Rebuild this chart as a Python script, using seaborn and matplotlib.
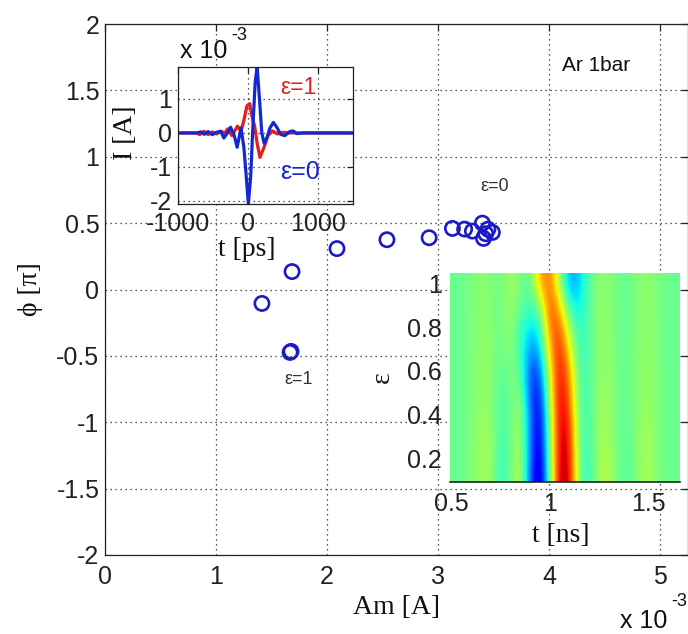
import numpy as np
import pandas as pd
import matplotlib
matplotlib.use("Agg")
import matplotlib.pyplot as plt
import seaborn as sns

# ---------------- data ----------------
# phase vs amplitude (amplitude in units of 1e-3 A, phase in units of pi)
amp_1e3 = [3.13, 3.24, 3.31, 3.40, 3.41, 3.45, 3.49, 3.43, 2.92, 2.54, 2.09, 1.685, 1.414, 1.667, 1.676]
phase_pi = [0.46, 0.455, 0.44, 0.50, 0.385, 0.455, 0.43, 0.42, 0.39, 0.375, 0.308, 0.135, -0.105, -0.474, -0.466]

# current waveforms (time in ps, current in units of 1e-3 A)
t_eps0 = [-1000, -740, -670, -625, -570, -510, -450, -390, -345, -295, -250, -200, -155, -100,
          -60, -28, 5, 38, 70, 103, 131, 164, 197, 230, 268, 315, 362, 408, 465, 526, 596, 643,
          700, 785, 1500]
i_eps0 = [0, 0, 0.03, -0.04, 0.04, -0.05, 0.02, 0.05, -0.15, 0.0, 0.17, -0.05, -0.42, 0.15,
          -0.4, -1.2, -2.09, -1.3, 0.2, 1.5, 1.94, 1.0, 0.0, -0.3, -0.15, 0.15, 0.31, 0.18, -0.04,
          -0.08, 0.04, 0.06, -0.02, 0, 0]
t_eps1 = [-1000, -740, -690, -630, -570, -510, -450, -390, -330, -290, -230, -150, -100, -60,
          -15, 25, 55, 95, 130, 170, 230, 285, 350, 420, 500, 600, 1500]
i_eps1 = [0, 0, -0.05, 0.05, -0.05, 0.03, -0.03, 0.05, 0.0, 0.12, -0.08, 0.2, 0.05, 0.36,
          0.8, 0.86, 0.5, 0.2, -0.3, -0.72, -0.42, -0.08, 0.06, -0.03, 0.02, 0, 0]

# waveform map: normalized current vs time (ns) for each epsilon
map_t_ns = [0.50, 0.55, 0.60, 0.65, 0.70, 0.75, 0.80, 0.85, 0.90, 0.95, 1.00, 1.05,
            1.10, 1.15, 1.20, 1.25, 1.30, 1.35, 1.40, 1.45, 1.50, 1.55, 1.60, 1.65]
map_eps = [0.1, 0.2, 0.3, 0.4, 0.5, 0.6, 0.7, 0.8, 0.9, 1.0]
map_eps01 = [-0.05, -0.05, 0.00, 0.08, 0.10, -0.20, -0.05, 0.20, -0.55, -1.00, -0.10, 0.95, 0.90, -0.05, -0.20, 0.12, 0.15, -0.05, -0.10, 0.05, 0.12, 0.00, -0.05, -0.05]
map_eps02 = [-0.05, -0.05, 0.00, 0.08, 0.10, -0.18, -0.05, 0.18, -0.50, -0.95, -0.05, 0.92, 0.85, -0.05, -0.18, 0.10, 0.12, -0.05, -0.08, 0.05, 0.10, 0.00, -0.05, -0.05]
map_eps03 = [-0.05, -0.05, 0.00, 0.08, 0.08, -0.15, -0.05, 0.15, -0.50, -0.90, 0.00, 0.90, 0.80, -0.08, -0.15, 0.10, 0.10, -0.05, -0.08, 0.05, 0.10, 0.00, -0.05, -0.05]
map_eps04 = [-0.05, -0.05, 0.00, 0.06, 0.06, -0.12, -0.05, 0.12, -0.50, -0.85, 0.05, 0.90, 0.72, -0.10, -0.12, 0.08, 0.08, -0.05, -0.06, 0.04, 0.08, 0.00, -0.05, -0.05]
map_eps05 = [-0.05, -0.05, 0.00, 0.05, 0.05, -0.10, -0.05, 0.05, -0.60, -0.75, 0.15, 0.88, 0.60, -0.12, -0.12, 0.06, 0.08, -0.04, -0.06, 0.04, 0.06, 0.00, -0.05, -0.05]
map_eps06 = [-0.05, -0.05, 0.00, 0.05, 0.04, -0.08, 0.00, -0.05, -0.60, -0.60, 0.25, 0.85, 0.50, -0.15, -0.10, 0.05, 0.06, -0.04, -0.05, 0.04, 0.06, 0.00, -0.05, -0.05]
map_eps07 = [-0.05, -0.05, 0.00, 0.04, 0.04, -0.05, 0.05, -0.15, -0.45, -0.40, 0.40, 0.80, 0.30, -0.18, -0.10, 0.05, 0.05, -0.04, -0.05, 0.03, 0.05, 0.00, -0.05, -0.05]
map_eps08 = [-0.05, -0.05, 0.00, 0.04, 0.04, -0.05, 0.08, -0.15, -0.30, -0.25, 0.60, 0.65, 0.10, -0.22, -0.08, 0.04, 0.05, -0.04, -0.05, 0.03, 0.05, 0.00, -0.05, -0.05]
map_eps09 = [-0.05, -0.05, 0.00, 0.03, 0.03, -0.05, 0.10, -0.05, -0.15, 0.00, 0.70, 0.40, -0.20, -0.30, -0.08, 0.04, 0.04, -0.04, -0.05, 0.03, 0.04, 0.00, -0.05, -0.05]
map_eps10 = [-0.05, -0.05, 0.00, 0.03, 0.03, -0.05, 0.10, 0.00, -0.10, 0.45, 0.60, 0.10, -0.45, -0.35, -0.08, 0.04, 0.04, -0.04, -0.05, 0.03, 0.04, 0.00, -0.05, -0.05]
map_rows = [map_eps01, map_eps02, map_eps03, map_eps04, map_eps05,
            map_eps06, map_eps07, map_eps08, map_eps09, map_eps10]

main_xticks = [0, 1, 2, 3, 4, 5]
main_yticks = [-2, -1.5, -1, -0.5, 0, 0.5, 1, 1.5, 2]
wave_xticks = [-1000, 0, 1000]
wave_yticks = [-2, -1, 0, 1]
map_xticks = [0.5, 1, 1.5]
map_yticks = [0.2, 0.4, 0.6, 0.8, 1]

# ---------------- style ----------------
sns.set_style("white")
plt.rcParams["font.family"] = ["Liberation Sans", "DejaVu Sans"]
plt.rcParams["axes.unicode_minus"] = False
SERIF = ["Liberation Serif", "DejaVu Serif"]
BLUE = "#1a1ac8"
LBLUE = "#1428d2"
RED = "#e81c1c"
GRID = dict(linestyle=(0, (1, 3)), color="#222222", linewidth=0.9)
fmt = matplotlib.ticker.FuncFormatter(lambda v, _: f"{v:g}")

W, H = 688, 634
fig = plt.figure(figsize=(W / 100, H / 100), dpi=100)


def box(l, t, r, b):
    return [l / W, 1 - b / H, (r - l) / W, (b - t) / H]


def fpos(x, y):
    return x / W, 1 - y / H


def frame(a, color="#222222"):
    for s in a.spines.values():
        s.set_color(color)
        s.set_linewidth(0.9)


# ---------------- main axes ----------------
ax = fig.add_axes(box(105, 24, 687.75, 555))
df = pd.DataFrame({"amp": amp_1e3, "phase": phase_pi})
sns.scatterplot(data=df, x="amp", y="phase", ax=ax, marker="o", s=105,
                facecolor="none", edgecolor=BLUE, linewidth=1.9, zorder=3)
ax.set_xlim(0, 5.25)
ax.set_ylim(-2, 2)
ax.set_xticks(main_xticks)
ax.set_yticks(main_yticks)
ax.xaxis.set_major_formatter(fmt)
ax.yaxis.set_major_formatter(fmt)
ax.grid(True, **GRID)
ax.tick_params(direction="in", length=5, width=0.9, top=True, right=True,
               labelsize=18, colors="#222222")
ax.tick_params(axis="x", pad=7)
ax.tick_params(axis="y", pad=4)
frame(ax)
ax.set_xlabel("Am [A]", fontsize=20, family=SERIF, color="#111111", va="center")
ax.xaxis.set_label_coords(0.5, (555 - 608) / 531)
ax.set_ylabel("ϕ [π]", fontsize=20, family=SERIF, color="#111111", va="center")
ax.yaxis.set_label_coords((30 - 105) / 583, 0.5)

ax.text(4.42, 1.684, "Ar 1bar", fontsize=15, ha="center", va="center", color="#111111")
ax.text(3.51, 0.774, "ε=0", fontsize=13, ha="center", va="center", color="#333333")
ax.text(1.74, -0.677, "ε=1", fontsize=13, ha="center", va="center", color="#333333")

fig.text(*fpos(644, 621), "x 10", fontsize=18, ha="center", va="center", color="#111111")
fig.text(*fpos(679, 602), "-3", fontsize=13, ha="center", va="center", color="#111111")

# ---------------- waveform inset ----------------
ax1 = fig.add_axes(box(178, 67, 353, 204))
ax1.set_facecolor("white")
sns.lineplot(x=t_eps1, y=i_eps1, ax=ax1, color=RED, linewidth=2.3,
             estimator=None, sort=False)
sns.lineplot(x=t_eps0, y=i_eps0, ax=ax1, color=LBLUE, linewidth=2.3,
             estimator=None, sort=False)
ax1.set_xlim(-1000, 1500)
ax1.set_ylim(-2.09, 1.94)
ax1.set_xticks(wave_xticks)
ax1.set_yticks(wave_yticks)
ax1.xaxis.set_major_formatter(fmt)
ax1.yaxis.set_major_formatter(fmt)
ax1.grid(True, **GRID)
ax1.tick_params(direction="in", length=4, width=0.9, top=True, right=True,
                labelsize=18, colors="#222222")
ax1.tick_params(axis="x", pad=6)
ax1.tick_params(axis="y", pad=4)
frame(ax1)
ax1.set_xlabel("t [ps]", fontsize=20, family=SERIF, color="#111111", va="center")
ax1.xaxis.set_label_coords((247 - 178) / 175, (204 - 249) / 137)
ax1.set_ylabel("I [A]", fontsize=20, family=SERIF, color="#111111", va="center")
ax1.yaxis.set_label_coords((125 - 178) / 175, (204 - 133) / 137)
ax1.text(718, 1.35, "ε=1", fontsize=16.5, color=RED, ha="center", va="center")
ax1.text(746, -1.15, "ε=0", fontsize=18, color=LBLUE, ha="center", va="center")
fig.text(*fpos(204, 51), "x 10", fontsize=18, ha="center", va="center", color="#111111")
fig.text(*fpos(239, 35), "-3", fontsize=13, ha="center", va="center", color="#111111")

# ---------------- waveform map inset ----------------
ax2 = fig.add_axes(box(450, 273, 680, 482))
ax2.patch.set_alpha(0)
grid = np.array(map_rows)
dt = map_t_ns[1] - map_t_ns[0]
de = map_eps[1] - map_eps[0]
ax2.imshow(grid, origin="lower", cmap="jet", vmin=-1, vmax=1,
           interpolation="bicubic", aspect="auto",
           extent=[map_t_ns[0] - dt / 2, map_t_ns[-1] + dt / 2,
                   map_eps[0] - de / 2, map_eps[-1] + de / 2])
ax2.set_xlim(0.495, 1.66)
ax2.set_ylim(0.09, 1.05)
ax2.set_xticks(map_xticks)
ax2.set_yticks(map_yticks)
ax2.xaxis.set_major_formatter(fmt)
ax2.yaxis.set_major_formatter(fmt)
ax2.tick_params(length=0, labelsize=18, colors="#222222")
ax2.tick_params(axis="x", pad=7)
ax2.tick_params(axis="y", pad=6)
for side in ("left", "top", "right"):
    ax2.spines[side].set_visible(False)
ax2.spines["bottom"].set_color("#222222")
ax2.spines["bottom"].set_linewidth(1.2)
ax2.set_xlabel("t [ns]", fontsize=20, family=SERIF, color="#111111", va="center")
ax2.xaxis.set_label_coords((561 - 450) / 230, (482 - 535) / 209)
ax2.set_ylabel("ε", fontsize=20, family=SERIF, color="#111111", va="center")
ax2.yaxis.set_label_coords((382 - 450) / 230, 0.5)

fig.savefig("out.png", dpi=100, facecolor="white")
